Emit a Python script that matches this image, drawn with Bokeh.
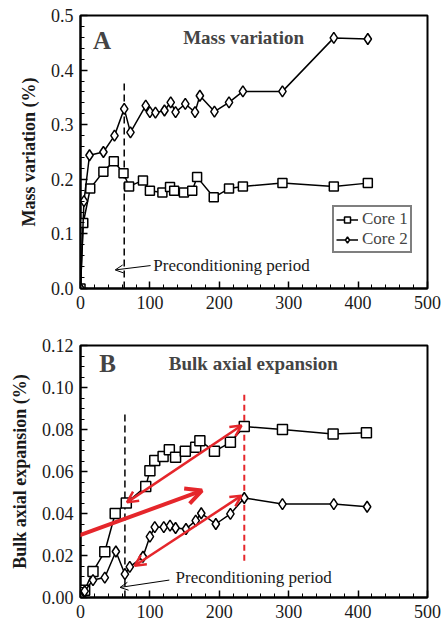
from bokeh.plotting import figure
from bokeh.layouts import column
from bokeh.models import (Range1d, FixedTicker, NumeralTickFormatter, Arrow, OpenHead, Label)
from bokeh.embed import file_html
from bokeh.resources import INLINE
import numpy as np

# ---------------- data ----------------
# Panel A: mass variation (%) vs time (days)
core1_a_x = [0, 4, 14, 33, 48, 62, 70, 90, 100, 118, 129, 135, 149, 161, 168, 192, 214, 234, 291, 365, 414]
core1_a_y = [0, 0.12, 0.183, 0.214, 0.233, 0.211, 0.187, 0.198, 0.179, 0.176, 0.186, 0.179, 0.176, 0.179,
             0.204, 0.167, 0.183, 0.187, 0.193, 0.187, 0.193]
core2_a_x = [0, 5, 13, 33, 49, 63, 72, 94, 100, 108, 121, 130, 137, 151, 165, 172, 193, 214, 234, 291, 365, 414]
core2_a_y = [0, 0.16, 0.244, 0.25, 0.28, 0.329, 0.286, 0.335, 0.323, 0.322, 0.326, 0.341, 0.323, 0.338,
             0.323, 0.353, 0.324, 0.341, 0.361, 0.361, 0.459, 0.457]

# Panel B: bulk axial expansion (%) vs time (days)
core1_b_x = [0, 6, 18, 35, 50, 66, 94, 100, 107, 119, 128, 137, 151, 166, 172, 193, 216, 236, 291, 364, 412]
core1_b_y = [0, 0.0035, 0.0124, 0.0218, 0.040, 0.045, 0.0528, 0.0604, 0.0652, 0.0671, 0.0703, 0.0668,
             0.0696, 0.0715, 0.0747, 0.0696, 0.0739, 0.0814, 0.080, 0.0779, 0.0784]
core2_b_x = [0, 6, 18, 35, 51, 64, 71, 90, 100, 107, 120, 129, 137, 152, 166, 174, 195, 216, 236, 291, 365, 413]
core2_b_y = [0, 0.003, 0.0083, 0.0095, 0.0219, 0.0111, 0.0146, 0.0194, 0.029, 0.0335, 0.0335, 0.0342,
             0.0331, 0.0326, 0.0366, 0.0401, 0.035, 0.0398, 0.0474, 0.0445, 0.0445, 0.0432]

x_ticks = [0, 100, 200, 300, 400, 500]
y_ticks_a = [0.0, 0.1, 0.2, 0.3, 0.4, 0.5]
y_ticks_b = [0.00, 0.02, 0.04, 0.06, 0.08, 0.10, 0.12]

precond_day_a = 63
precond_day_b = 64
red_day_b = 236

SERIF = "Liberation Serif"
RED = "#e5262b"
TXT = "#1a1a1a"


def style_axis(ax):
    ax.axis_line_width = 2
    ax.axis_line_color = "black"
    ax.major_tick_in = 7
    ax.major_tick_out = 0
    ax.minor_tick_in = 4
    ax.minor_tick_out = 0
    ax.major_tick_line_width = 1.5
    ax.minor_tick_line_width = 1
    ax.major_label_text_font = SERIF
    ax.major_label_text_font_size = "18px"
    ax.major_label_text_color = TXT
    ax.major_label_standoff = 7


def style(p, yticks, yminor, yfmt, ylabel):
    p.title.visible = False
    p.xgrid.visible = False
    p.ygrid.visible = False
    p.outline_line_color = "black"
    p.outline_line_width = 2
    p.xaxis.ticker = FixedTicker(ticks=x_ticks, minor_ticks=list(np.arange(0, 501, 20)))
    p.yaxis.ticker = FixedTicker(ticks=yticks, minor_ticks=yminor)
    p.yaxis.formatter = NumeralTickFormatter(format=yfmt)
    style_axis(p.xaxis[0])
    style_axis(p.yaxis[0])
    p.yaxis.axis_label = ylabel
    p.yaxis.axis_label_text_font = SERIF
    p.yaxis.axis_label_text_font_size = "18px"
    p.yaxis.axis_label_text_font_style = "bold"
    p.yaxis.axis_label_text_color = TXT
    p.yaxis.axis_label_standoff = 9


# ---------------- panel A ----------------
pA = figure(width=445, height=318, output_backend="svg", toolbar_location=None,
            x_range=Range1d(0, 500), y_range=Range1d(0, 0.5),
            min_border_left=80, min_border_right=18, min_border_top=15, min_border_bottom=30)
style(pA, y_ticks_a, list(np.arange(0, 0.501, 0.02)), "0.0", "Mass variation (%)")

pA.segment(x0=[precond_day_a], y0=[0], x1=[precond_day_a], y1=[0.38],
           line_color="black", line_width=1.5, line_dash="7 4")

pA.line(core1_a_x, core1_a_y, line_color="black", line_width=1.5, legend_label="Core 1")
pA.scatter(core1_a_x, core1_a_y, marker="square", size=9, fill_color="white",
           line_color="black", line_width=1.5, legend_label="Core 1")
pA.line(core2_a_x, core2_a_y, line_color="black", line_width=1.5, legend_label="Core 2")
pA.scatter(core2_a_x, core2_a_y, marker="diamond", size=11, fill_color="white",
           line_color="black", line_width=1.5, legend_label="Core 2")

pA.add_layout(Label(x=31, y=0.454, text="A", text_font=SERIF, text_font_size="25px",
                    text_font_style="bold", text_align="center", text_baseline="middle"))
pA.add_layout(Label(x=235, y=0.46, text="Mass variation", text_font=SERIF, text_font_size="19px",
                    text_font_style="bold", text_align="center", text_baseline="middle"))
pA.add_layout(Label(x=105, y=0.042, text="Preconditioning period", text_font=SERIF,
                    text_font_size="17px", text_align="left", text_baseline="middle",
                    text_color=TXT))
pA.add_layout(Arrow(x_start=101, y_start=0.042, x_end=50, y_end=0.034, line_width=1,
                    end=OpenHead(size=8, line_width=1)))

lg = pA.legend[0]
lg.location = (252, 35)
lg.border_line_color = "black"
lg.border_line_width = 2
lg.background_fill_alpha = 1
lg.padding = 2
lg.spacing = 0
lg.margin = 0
lg.label_text_font = SERIF
lg.label_text_font_size = "17px"
lg.label_height = 15
lg.glyph_height = 15
lg.glyph_width = 22
lg.label_standoff = 4

# ---------------- panel B ----------------
pB = figure(width=445, height=311, output_backend="svg", toolbar_location=None,
            x_range=Range1d(0, 500), y_range=Range1d(0, 0.12),
            min_border_left=80, min_border_right=13, min_border_top=27, min_border_bottom=32)
style(pB, y_ticks_b, list(np.arange(0, 0.1201, 0.005)), "0.00", "Bulk axial expansion (%)")

pB.segment(x0=[precond_day_b], y0=[0], x1=[precond_day_b], y1=[0.089],
           line_color="black", line_width=1.5, line_dash="7 4")
pB.segment(x0=[red_day_b], y0=[0.0175], x1=[red_day_b], y1=[0.097],
           line_color=RED, line_width=2, line_dash="6 4")

pB.line(core1_b_x, core1_b_y, line_color="black", line_width=1.5)
pB.scatter(core1_b_x, core1_b_y, marker="square", size=10, fill_color="white",
           line_color="black", line_width=1.5)
pB.line(core2_b_x, core2_b_y, line_color="black", line_width=1.5)
pB.scatter(core2_b_x, core2_b_y, marker="diamond", size=11, fill_color="white",
           line_color="black", line_width=1.5)

# red annotation arrows
pB.add_layout(Arrow(x_start=67, y_start=0.0453, x_end=232, y_end=0.0819,
                    line_color=RED, line_width=2.5,
                    start=OpenHead(size=11, line_color=RED, line_width=2.5),
                    end=OpenHead(size=11, line_color=RED, line_width=2.5)))
pB.add_layout(Arrow(x_start=78, y_start=0.0151, x_end=232, y_end=0.0485,
                    line_color=RED, line_width=2.5,
                    start=OpenHead(size=11, line_color=RED, line_width=2.5),
                    end=OpenHead(size=11, line_color=RED, line_width=2.5)))
pB.add_layout(Arrow(x_start=-113.6, y_start=0.016, x_end=175, y_end=0.0509,
                    line_color=RED, line_width=4,
                    end=OpenHead(size=16, line_color=RED, line_width=4)))

pB.add_layout(Label(x=39, y=0.1113, text="B", text_font=SERIF, text_font_size="25px",
                    text_font_style="bold", text_align="center", text_baseline="middle"))
pB.add_layout(Label(x=249, y=0.1113, text="Bulk axial expansion", text_font=SERIF,
                    text_font_size="19px", text_font_style="bold", text_align="center",
                    text_baseline="middle"))
pB.add_layout(Label(x=137, y=0.0095, text="Preconditioning period", text_font=SERIF,
                    text_font_size="17px", text_align="left", text_baseline="middle",
                    text_color=TXT))
pB.add_layout(Arrow(x_start=128, y_start=0.0083, x_end=57, y_end=0.0048, line_width=1,
                    end=OpenHead(size=8, line_width=1)))

layout = column(pA, pB, spacing=0)
open("out.html", "w").write(file_html(layout, INLINE))
